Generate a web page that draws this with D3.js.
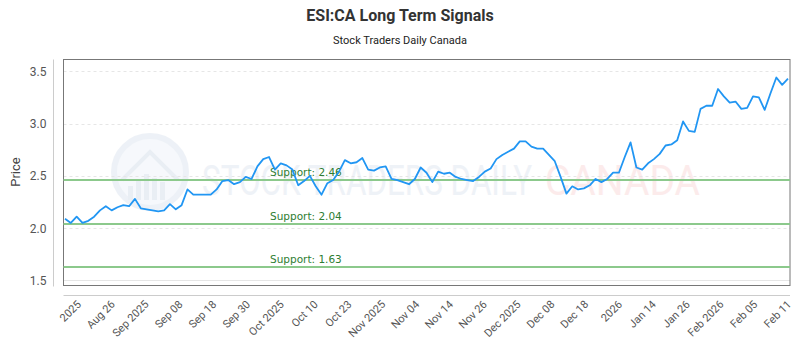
<!DOCTYPE html>
<html>
<head>
<meta charset="utf-8">
<script src="https://cdn.jsdelivr.net/npm/d3@7"></script>
<style>
  body { margin: 0; background: #fff; }
  text { font-family: Roboto, "DejaVu Sans", sans-serif; }
</style>
</head>
<body>
<div id="chart"></div>
<script>
// data
var prices = [
	2.09, 2.05, 2.11, 2.05, 2.07, 2.11, 2.17, 2.21, 2.17, 2.20,
	2.22, 2.21, 2.28, 2.19, 2.18, 2.17, 2.16, 2.17, 2.23, 2.18,
	2.22, 2.37, 2.32, 2.32, 2.32, 2.32, 2.37, 2.45, 2.46, 2.42,
	2.44, 2.49, 2.47, 2.59, 2.66, 2.68, 2.56, 2.62, 2.60, 2.56,
	2.41, 2.45, 2.50, 2.40, 2.32, 2.43, 2.46, 2.54, 2.65, 2.62,
	2.63, 2.67, 2.56, 2.55, 2.58, 2.59, 2.47, 2.46, 2.44, 2.42,
	2.47, 2.58, 2.53, 2.44, 2.54, 2.52, 2.53, 2.49, 2.47, 2.46,
	2.45, 2.49, 2.54, 2.57, 2.66, 2.70, 2.73, 2.76, 2.83, 2.83,
	2.78, 2.76, 2.76, 2.70, 2.64, 2.49, 2.33, 2.40, 2.37, 2.38,
	2.41, 2.47, 2.44, 2.47, 2.53, 2.53, 2.68, 2.82, 2.58, 2.56,
	2.62, 2.66, 2.71, 2.79, 2.80, 2.84, 3.02, 2.93, 2.92, 3.14,
	3.17, 3.17, 3.33, 3.26, 3.20, 3.21, 3.14, 3.15, 3.26, 3.25,
	3.13, 3.29, 3.44, 3.37, 3.43
];

var tickLabels = ['2025', 'Aug 26', 'Sep 2025', 'Sep 08', 'Sep 18', 'Sep 30',
	'Oct 2025', 'Oct 10', 'Oct 23', 'Nov 2025', 'Nov 04', 'Nov 14', 'Nov 26',
	'Dec 2025', 'Dec 08', 'Dec 18', '2026', 'Jan 14', 'Jan 26', 'Feb 2026',
	'Feb 05', 'Feb 11'];

var yTicks = [1.5, 2.0, 2.5, 3.0, 3.5];

var supportLevels = [2.46, 2.04, 1.63];

// svg size
var svgWidth = 800,
	svgHeight = 350;

// plot frame
var frame = { left: 63.5, right: 790, top: 59.5, bottom: 285.5 };

var svg = d3.select('#chart')
	.append('svg')
	.attr('width', svgWidth)
	.attr('height', svgHeight);

var xScale = d3.scaleLinear()
	.domain([0, prices.length - 1])
	.range([65, 788]);

var yScale = d3.scaleLinear()
	.domain([1.452, 3.612])
	.range([frame.bottom, frame.top]);

// title
svg.append('text')
	.attr('x', 400)
	.attr('y', 21)
	.attr('text-anchor', 'middle')
	.style('font-size', '16px')
	.style('font-weight', 'bold')
	.style('fill', '#333')
	.text('ESI:CA Long Term Signals');

svg.append('text')
	.attr('x', 400)
	.attr('y', 44)
	.attr('text-anchor', 'middle')
	.style('font-size', '11px')
	.style('fill', '#222')
	.text('Stock Traders Daily Canada');

// watermark
var wm = svg.append('g').attr('opacity', 0.5);
wm.append('circle')
	.attr('cx', 150).attr('cy', 172).attr('r', 36)
	.attr('fill', '#eef3fa')
	.attr('stroke', '#dde5f0')
	.attr('stroke-width', 6);
wm.append('path')
	.attr('d', 'M122,180 L150,152 L178,180')
	.attr('fill', 'none')
	.attr('stroke', '#d5deeb')
	.attr('stroke-width', 4);
[[128, 14], [136, 20], [144, 26], [152, 22], [160, 18]].forEach(function (b) {
	wm.append('rect')
		.attr('x', b[0]).attr('y', 200 - b[1])
		.attr('width', 5).attr('height', b[1])
		.attr('fill', '#d5deeb');
});
wm.append('text')
	.attr('x', 202).attr('y', 195)
	.attr('textLength', 330)
	.attr('lengthAdjust', 'spacingAndGlyphs')
	.style('font-size', '42px')
	.style('fill', '#dfe6f0')
	.text('STOCK TRADERS DAILY');
wm.append('text')
	.attr('x', 545).attr('y', 195)
	.attr('textLength', 155)
	.attr('lengthAdjust', 'spacingAndGlyphs')
	.style('font-size', '42px')
	.style('fill', '#fbd9d9')
	.text('CANADA');

// grid lines
svg.append('g').selectAll('line')
	.data(yTicks)
	.enter()
	.append('line')
	.attr('x1', frame.left)
	.attr('x2', frame.right)
	.attr('y1', d => Math.round(yScale(d)) + 0.5)
	.attr('y2', d => Math.round(yScale(d)) + 0.5)
	.attr('stroke', '#e6e6e6')
	.attr('stroke-dasharray', d => d === 1.5 ? null : '3,3');

// frame
svg.append('rect')
	.attr('x', frame.left)
	.attr('y', frame.top)
	.attr('width', frame.right - frame.left)
	.attr('height', frame.bottom - frame.top)
	.attr('fill', 'none')
	.attr('stroke', '#777');

// y axis
var yAxis = svg.append('g')
	.attr('transform', 'translate(53.5,0)')
	.call(d3.axisLeft(yScale).tickValues(yTicks).tickFormat(d3.format('.1f')).tickSize(0).tickPadding(7));
yAxis.select('.domain')
	.attr('stroke', '#ccc')
	.attr('d', `M0,${frame.top}V${frame.bottom + 1}`);
yAxis.selectAll('text')
	.style('font-size', '12px')
	.style('fill', '#555')
	.style('font-family', 'Roboto, sans-serif');

svg.append('text')
	.attr('transform', 'translate(20,172)rotate(-90)')
	.attr('text-anchor', 'middle')
	.style('font-size', '13px')
	.style('fill', '#444')
	.text('Price');

// x axis
svg.append('line')
	.attr('x1', frame.left)
	.attr('x2', frame.right)
	.attr('y1', 295.5)
	.attr('y2', 295.5)
	.attr('stroke', '#ccc');

var tickStart = 2.2;
var tickIdx = d3.scaleLinear()
	.domain([0, tickLabels.length - 1])
	.range([tickStart, prices.length - 1]);

svg.append('g').selectAll('text')
	.data(tickLabels)
	.enter()
	.append('text')
	.attr('transform', (d, i) => `translate(${xScale(tickIdx(i)) + 4},305)rotate(-45)`)
	.attr('text-anchor', 'end')
	.style('font-size', '11px')
	.style('fill', '#555')
	.text(d => d);

// support lines
svg.append('g').selectAll('line')
	.data(supportLevels)
	.enter()
	.append('line')
	.attr('x1', frame.left)
	.attr('x2', frame.right)
	.attr('y1', d => yScale(d))
	.attr('y2', d => yScale(d))
	.attr('stroke', '#8cc98c')
	.attr('stroke-width', 2);

svg.append('g').selectAll('text')
	.data(supportLevels)
	.enter()
	.append('text')
	.attr('x', 270)
	.attr('y', d => yScale(d) - 4)
	.style('font-size', '10.5px')
	.style('fill', '#2e7d32')
	.style('font-family', '"DejaVu Sans", sans-serif')
	.text(d => `Support: ${d.toFixed(2)}`);

// price line
var line = d3.line()
	.x((d, i) => xScale(i))
	.y(d => yScale(d));

svg.append('path')
	.datum(prices)
	.attr('d', line)
	.attr('fill', 'none')
	.attr('stroke', '#2196f3')
	.attr('stroke-width', 1.8)
	.attr('stroke-linejoin', 'round');
</script>
</body>
</html>
